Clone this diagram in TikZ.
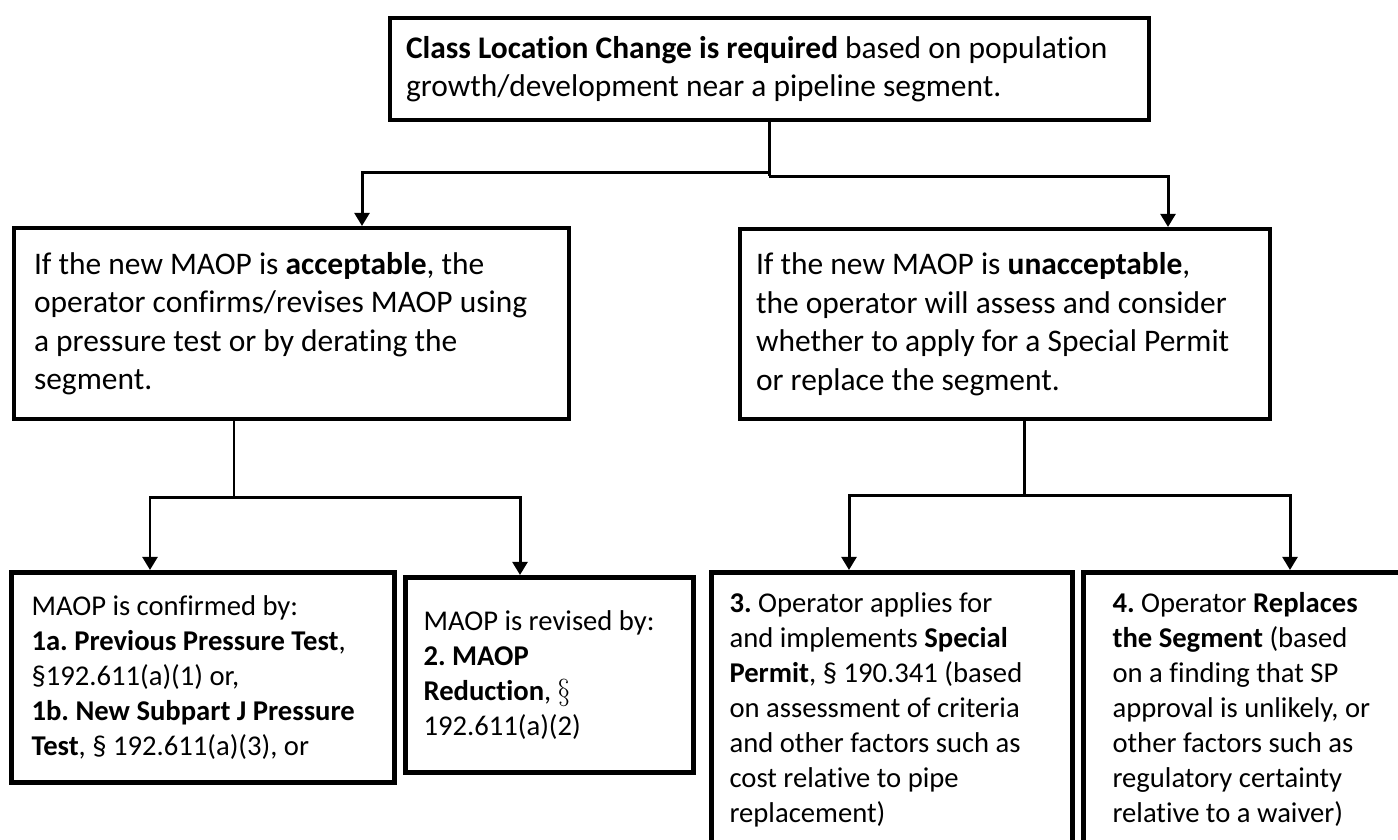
\documentclass[tikz,border=0pt]{standalone}
\usepackage{fontspec}
\setmainfont{Carlito}[Ligatures=NoCommon]
\frenchspacing
\usetikzlibrary{arrows.meta, positioning, calc}

\begin{document}
\begin{tikzpicture}[
    x=0.02cm, y=-0.02cm,
    box/.style={draw, line width=2.3pt, anchor=north west, align=flush left, inner ysep=0pt, font=\fontsize{17.9pt}{21.9pt}\selectfont},
    smallbox/.style={box, line width=2.9pt, font=\fontsize{16.3pt}{19.9pt}\selectfont},
    conn/.style={line width=1.7pt},
    arr/.style={conn, -{Triangle[length=7.5pt, width=8.5pt]}},
]
    \clip (0,0) rectangle (1398,839);

    % top and second row
    \node[box, text width=14.54cm, inner xsep=0.32cm, minimum height=2.04cm] (change) at (388,16)
        {\textbf{Class Location Change is required} based on population\\growth/development near a pipeline segment.};
    \node[box, text width=10.3cm, inner xsep=0.4cm, minimum height=3.82cm] (accept) at (12,226)
        {If the new MAOP is \textbf{acceptable}, the\\operator confirms/revises MAOP using\\a pressure test or by derating the\\segment.};
    \node[box, text width=9.96cm, inner xsep=0.32cm, minimum height=3.8cm] (reject) at (738,227)
        {If the new MAOP is \textbf{unacceptable},\\the operator will assess and consider\\whether to apply for a Special Permit\\or replace the segment.};

    % bottom row
    \node[smallbox, text width=6.86cm, inner xsep=0.4cm, minimum height=4.2cm] (confirm) at (9,570)
        {MAOP is confirmed by:\\\textbf{1a. Previous Pressure Test},\\§192.611(a)(1) or,\\\textbf{1b. New Subpart J Pressure}\\\textbf{Test}, § 192.611(a)(3), or};
    \node[smallbox, text width=5.04cm, inner xsep=0.36cm, minimum height=3.9cm] (revise) at (403,575)
        {MAOP is revised by:\\\textbf{2. MAOP}\\\textbf{Reduction}, $\S$\\192.611(a)(2)};
    \node[smallbox, text width=6.5cm, inner xsep=0.36cm, inner ysep=0.4cm] (permit) at (709,570)
        {\textbf{3.} Operator applies for\\and implements \textbf{Special}\\\textbf{Permit}, § 190.341 (based\\on assessment of criteria\\and other factors such as\\cost relative to pipe\\replacement)};
    \node[smallbox, text width=5.8cm, inner xsep=0.58cm, inner ysep=0.4cm] (replace) at (1081,570)
        {\textbf{4.} Operator \textbf{Replaces}\\\textbf{the Segment} (based\\on a finding that SP\\approval is unlikely, or\\other factors such as\\regulatory certainty\\relative to a waiver)};

    % connectors
    \coordinate (split) at ($(change.south)+(0,54)$);
    \draw[conn] (change.south) -- (split);
    \draw[arr] ($(split)+(0,-4)$) -| ($(accept.north west)+(350,0)$);
    \draw[arr] (split) -| ($(reject.north west)+(430,0)$);

    \coordinate (splitL) at ($(accept.south west)+(222,76)$);
    \draw[conn] ($(accept.south west)+(222,0)$) -- (splitL);
    \draw[arr] (splitL) -| ($(confirm.north west)+(141,0)$);
    \draw[arr] (splitL) -| ($(revise.north west)+(117,0)$);

    \coordinate (splitR) at ($(reject.south west)+(286,74)$);
    \draw[conn] ($(reject.south west)+(286,0)$) -- (splitR);
    \draw[arr] (splitR) -| ($(permit.north west)+(140,0)$);
    \draw[arr] (splitR) -| ($(replace.north west)+(209,0)$);
\end{tikzpicture}
\end{document}
